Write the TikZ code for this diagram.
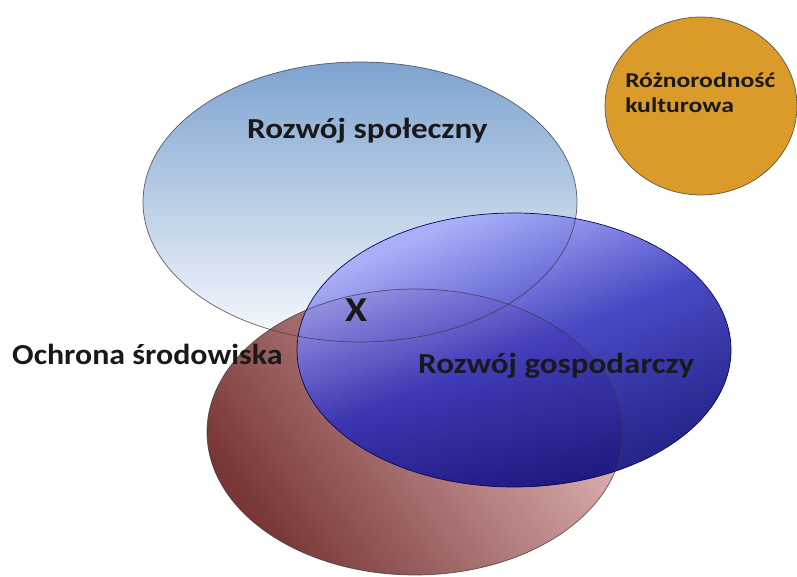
\documentclass[tikz,border=0pt]{standalone}
\usepackage{fontspec}
\setmainfont{Carlito}
\usetikzlibrary{shapes.geometric}
\definecolor{skytop}{RGB}{125,163,208}
\definecolor{bluelight}{RGB}{165,170,250}
\definecolor{bluemid}{RGB}{48,48,188}
\definecolor{bluedark}{RGB}{8,8,125}
\definecolor{browndark}{RGB}{105,32,32}
\definecolor{brownlight}{RGB}{226,180,180}
\definecolor{orangefill}{RGB}{218,155,42}
\definecolor{edge}{RGB}{60,60,70}
\pgfdeclareverticalshading{econblue}{100bp}{
  color(0bp)=(bluedark); color(28bp)=(bluedark); color(50bp)=(bluemid); color(72bp)=(bluelight); color(100bp)=(bluelight)}
\tikzset{
  outline/.style={draw=edge, line width=0.7pt},
  lbl/.style={font=\bfseries\fontsize{29}{32}\selectfont, text=black!90, inner sep=0pt, anchor=base west},
}
\begin{document}
\begin{tikzpicture}[x=1pt,y=-1pt]
\useasboundingbox (0,0) rectangle (797,577);
% top ellipse: social development
\shade[top color=skytop, bottom color=white!95!skytop] (360,202) ellipse [x radius=217, y radius=140];
% brown ellipse: environment
\shade[top color=brownlight, bottom color=browndark, shading angle=-55, opacity=0.9] (415,432) ellipse [x radius=208, y radius=143];
% blue ellipse: economic
\shade[shading=econblue, shading angle=22, opacity=0.88] (514,350) ellipse [x radius=217, y radius=137];
% outlines
\draw[outline, draw opacity=0.8] (360,202) ellipse [x radius=217, y radius=140];
\draw[outline, draw opacity=0.8] (415,432) ellipse [x radius=208, y radius=143];
\draw[outline, draw=bluedark!70!black] (514,350) ellipse [x radius=217, y radius=137];
% orange circle
\fill[orangefill] (701,106) ellipse [x radius=96, y radius=89];
\draw[outline, draw opacity=0.8] (701,106) ellipse [x radius=96, y radius=89];
% labels
\node[lbl, xscale=1.14] (spol) at (247,139) {Rozwój społeczny};
\node[lbl, xscale=1.10] (ochr) at (12,364) {Ochrona środowiska};
\node[lbl, xscale=1.14] (gosp) at (418,373) {Rozwój gospodarczy};
\node[lbl, xscale=1.14, font=\bfseries\fontsize{35}{36}\selectfont] (x) at (345,321) {X};
\node[lbl, xscale=1.22, font=\bfseries\fontsize{21}{25}\selectfont, align=left, anchor=north west] (kult) at (625,73) {Różnorodność\\kulturowa};
\end{tikzpicture}
\end{document}
